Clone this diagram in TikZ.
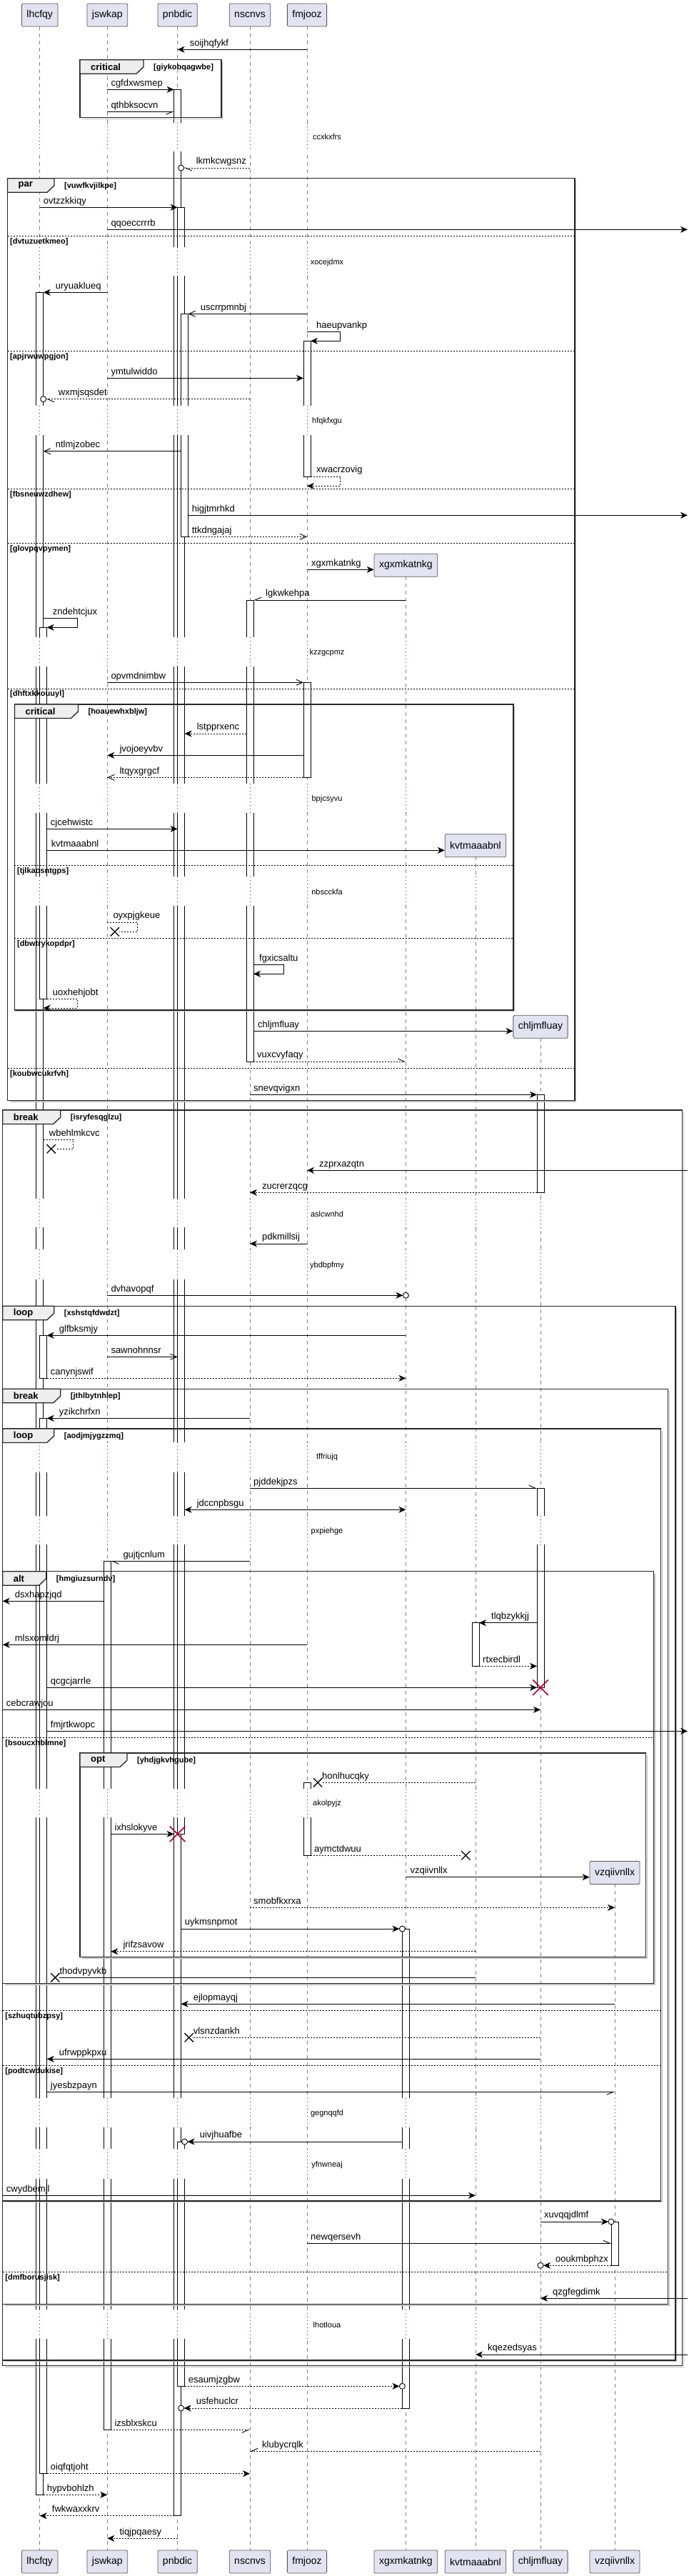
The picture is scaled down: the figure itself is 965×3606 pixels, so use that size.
\documentclass[tikz,border=0pt]{standalone}
\usepackage{fontspec}
\setmainfont{Liberation Sans}
\usetikzlibrary{arrows.meta,shapes.misc}
\definecolor{partyfill}{HTML}{E2E2F0}
\definecolor{tabfill}{HTML}{EEEEEE}
\definecolor{dlycol}{HTML}{A80036}

\def\xlh{55.7}
\def\xjs{150.3}
\def\xpn{248.6}
\def\xns{350}
\def\xfm{430}
\def\xxg{568.4}
\def\xkv{666}
\def\xch{757}
\def\xvz{861}
\def\Pfive{\xlh,\xjs,\xpn,\xns,\xfm}
\def\Psix{\xlh,\xjs,\xpn,\xns,\xfm,\xxg}
\def\Pseven{\xlh,\xjs,\xpn,\xns,\xfm,\xxg,\xkv}
\def\Peight{\xlh,\xjs,\xpn,\xns,\xfm,\xxg,\xkv,\xch}
\def\Pnine{\xlh,\xjs,\xpn,\xns,\xfm,\xxg,\xkv,\xch,\xvz}

\tikzset{
  lifeline/.style={draw=gray, line width=0.5pt, dash pattern=on 5pt off 5pt},
  dlyline/.style={draw=dlycol, line width=0.6pt, dash pattern=on 1pt off 4pt},
  party/.style={draw=gray!70!black, fill=partyfill, line width=0.8pt, rounded corners=1.5pt,
    minimum height=32pt, inner xsep=7pt, font=\fontsize{14}{16}\selectfont},
  actbar/.style={draw=black, fill=white, line width=0.7pt},
  msgline/.style={line width=0.9pt},
  ret/.style={dash pattern=on 2pt off 2pt},
  hd/.style={-{Stealth[length=10pt,width=9pt,inset=3pt]}},
  dbl/.style={{Stealth[length=10pt,width=9pt,inset=3pt]}-{Stealth[length=10pt,width=9pt,inset=3pt]}},
  opn/.style={-{Straight Barb[length=9pt,width=8pt]}},
  hpl/.style={-{Straight Barb[harpoon,length=9pt,width=8pt]}},
  hpr/.style={-{Straight Barb[harpoon,swap,length=9pt,width=8pt]}},
  ring/.style={circle, draw, line width=0.9pt, fill=white, inner sep=0pt, minimum size=8pt},
  lostx/.style={cross out, draw, line width=1.3pt, minimum width=11pt, minimum height=11pt, inner sep=0pt},
  kill/.style={cross out, draw=dlycol, line width=1.6pt, minimum width=20pt, minimum height=20pt, inner sep=0pt},
  lbl/.style={anchor=south west, inner sep=0pt, font=\fontsize{13}{15}\selectfont, text height=9.5pt, text depth=3pt},
  dly/.style={inner sep=0pt, font=\fontsize{11}{13}\selectfont},
  frm/.style={draw=black!85, line width=1.3pt},
  frmshadow/.style={draw=gray!50, line width=1.3pt},
  sepline/.style={line width=0.8pt, dash pattern=on 2pt off 2pt},
  kw/.style={anchor=west, inner sep=0pt, font=\bfseries\fontsize{13}{15}\selectfont},
  cond/.style={anchor=west, inner sep=0pt, font=\bfseries\fontsize{11}{13}\selectfont},
}

% message: style, from, to, y, label
\newcommand\sqmsg[5][]{%
  \coordinate (#5-s) at (#2,#4);
  \coordinate (#5-t) at (#3,#4);
  \draw[msgline,#1] (#5-s) -- (#5-t);
  \pgfmathsetmacro\labx{(#2)<(#3) ? (#2)+5 : (#3)+17}
  \node[lbl] (#5) at (\labx,#4-2) {#5};}
% message to self: style, from, loop x, y1, y2, back to, label
\newcommand\sqself[7][]{%
  \coordinate (#7-s) at (#2,#4);
  \coordinate (#7-t) at (#6,#5);
  \draw[msgline,#1] (#7-s) -- (#3,#4) -- (#3,#5) -- (#7-t);
  \pgfmathsetmacro\labx{max(#2,#6)+8}
  \node[lbl] (#7) at (\labx,#4-2) {#7};}
% lost message: style, from, x of cross, y, label
\newcommand\sqlost[5][]{%
  \coordinate (#5-s) at (#2,#4);
  \node[lostx] (#5-x) at (#3,#4) {};
  \draw[msgline,#1] (#5-s) -- (#5-x);
  \pgfmathsetmacro\labx{(#2)<(#3) ? (#2)+5 : (#3)+6}
  \node[lbl] (#5) at (\labx,#4-2) {#5};}
\newcommand\sqlostself[7][]{%
  \coordinate (#7-s) at (#2,#4);
  \node[lostx] (#7-x) at (#6,#5) {};
  \draw[msgline,#1] (#7-s) -- (#3,#4) -- (#3,#5) -- (#7-x);
  \node[lbl] (#7) at (#2+8,#4-2) {#7};}
% create: from, y, box x, box y, name
\newcommand\sqcreate[5]{%
  \node[party] (p-#5) at (#3,#4) {#5};
  \coordinate (#5-s) at (#1,#2);
  \draw[msgline,hd] (#5-s) -- (#5-s -| p-#5.west);
  \node[lbl] (#5) at (#1+6,#2-2) {#5};}
% group: x0, y0, x1, y1, tab width, keyword, condition
\newcommand\sqgroup[7]{%
  \draw[frmshadow] (#1+3,#4+1.8) -- (#3+1.8,#4+1.8) -- (#3+1.8,#2+3);
  \draw[frm] (#1,#2) rectangle (#3,#4);
  \draw[frm,fill=tabfill] (#1,#2) -- (#1+#5,#2) -- (#1+#5,#2+10) -- (#1+#5-10,#2+19.5) -- (#1,#2+19.5) -- cycle;
  \node[kw] (k-#7) at (#1+15,#2+10) {#6};
  \node[cond] (g-#7) at (#1+#5+14,#2+10.5) {[#7]};}
\newcommand\sqsep[4]{%
  \draw[sepline] (#1,#3) -- (#2,#3);
  \node[cond] (g-#4) at (#1+3.5,#3+8) {[#4]};}
% delay: y1, y2, y of text, text, lifelines
\newcommand\sqdelay[5]{%
  \fill[white] (0,#1) rectangle (965,#2);
  \foreach \px in #5 {\draw[dlyline] (\px,#1) -- (\px,#2);}
  \node[dly] (d-#4) at (458,#3) {#4};}

\begin{document}
\begin{tikzpicture}[x=1pt,y=-1pt]
\useasboundingbox (0,0) rectangle (965,3606);

% lifelines
\foreach \px/\ytop in {\xlh/37,\xjs/37,\xpn/37,\xns/37,\xfm/37,\xxg/807.3,\xkv/1199.3,\xch/1453.3,\xvz/2637.3}
  \draw[lifeline] (\px,\ytop) -- (\px,3570);

% activations
\foreach \bx/\ba/\bb in {50.7/409.3/3492.3, 55.7/878.3/1398.3, 55.7/1869.3/1929.3, 55.7/1985.3/3462.7,
    145.3/2185.3/3401.3, 243.6/125.3/3521.7, 248.6/290.3/2567.3, 253.6/439.3/751.3, 248.6/2998/3340.3,
    345/840/1486, 425/477.3/667, 425/955.3/1088.3, 425/2495.3/2597.3, 563.4/2700/3371,
    661/2271.7/2332.3, 752/1532.3/1669.3, 752/2083.3/2362.3, 856/3110/3171.3}
  \draw[actbar] (\bx,\ba) rectangle (\bx+10,\bb);

% delays
\sqdelay{172}{212}{192}{ccxkxfrs}{\Pfive}
\sqdelay{345.7}{386}{367.7}{xocejdmx}{\Pfive}
\sqdelay{567.7}{609.3}{589.3}{hfqkfxgu}{\Pfive}
\sqdelay{891.7}{932.7}{913.7}{kzzgcpmz}{\Psix}
\sqdelay{1096.7}{1137.7}{1118.3}{bpjcsyvu}{\Psix}
\sqdelay{1226.7}{1268.3}{1248.3}{nbscckfa}{\Pseven}
\sqdelay{1677.7}{1718.3}{1699.3}{aslcwnhd}{\Peight}
\sqdelay{1749.3}{1791}{1771.7}{ybdbpfmy}{\Peight}
\sqdelay{2018.7}{2060.7}{2040}{tffriujq}{\Peight}
\sqdelay{2121.7}{2162.3}{2143.3}{pxpiehge}{\Peight}
\sqdelay{2503.7}{2544.3}{2524.3}{akolpyjz}{\Peight}
\sqdelay{2936.7}{2977.7}{2958.7}{gegnqqfd}{\Pnine}
\sqdelay{3008}{3050}{3030.7}{yfnwneaj}{\Pnine}
\sqdelay{3232.7}{3274}{3254.3}{lhotloua}{\Pnine}

% groups
\sqgroup{112}{83.7}{310}{164.7}{89}{critical}{giykobqagwbe}
\sqgroup{10.5}{249.7}{805}{1540.3}{65.5}{par}{vuwfkvjilkpe}
\sqsep{10.5}{805}{330.3}{dvtuzuetkmeo}
\sqsep{10.5}{805}{491.3}{apjrwuwpgjon}
\sqsep{10.5}{805}{684.3}{fbsneuwzdhew}
\sqsep{10.5}{805}{760.3}{glovpqvpymen}
\sqsep{10.5}{805}{964}{dhftxkkouuyl}
\sqsep{10.5}{805}{1495.3}{koubwcukrfvh}
\sqgroup{20.4}{986}{719}{1414}{89}{critical}{hoauewhxbljw}
\sqsep{20.4}{719}{1211.3}{tjlkaosntgps}
\sqsep{20.4}{719}{1313.3}{dbwtrykopdpr}
\sqgroup{3.7}{1554}{955.5}{3311.7}{81}{break}{isryfesqglzu}
\sqgroup{3.7}{1828.3}{946}{3304}{72}{loop}{xshstqfdwdzt}
\sqgroup{3.7}{1944.3}{935.7}{3225.3}{81}{break}{jthlbytnhlep}
\sqsep{3.7}{935.7}{3180.3}{dmfborusjisk}
\sqgroup{3.7}{2000}{925.8}{3081}{72}{loop}{aodjmjygzzmq}
\sqsep{3.7}{925.8}{2814.3}{szhuqtubzpsy}
\sqsep{3.7}{925.8}{2891.3}{podtcwdukise}
\sqgroup{3.7}{2199.7}{915.3}{2776.3}{61}{alt}{hmgiuzsurndv}
\sqsep{3.7}{915.3}{2432.3}{bsoucxhblmne}
\sqgroup{112}{2454}{904.8}{2739.3}{66}{opt}{yhdjgkvhgube}

% participants
\foreach \px/\nm in {\xlh/lhcfqy,\xjs/jswkap,\xpn/pnbdic,\xns/nscnvs,\xfm/fmjooz}
  \node[party] (\nm-top) at (\px,21) {\nm};
\foreach \px/\nm in {\xlh/lhcfqy,\xjs/jswkap,\xpn/pnbdic,\xns/nscnvs,\xfm/fmjooz,\xxg/xgxmkatnkg,\xkv/kvtmaaabnl,\xch/chljmfluay,\xvz/vzqiivnllx}
  \node[party] (\nm-bot) at (\px,3586) {\nm};

% messages
\sqmsg[hd]{\xfm}{\xpn}{69.3}{soijhqfykf}
\sqmsg[hd]{\xjs}{243.6}{125.3}{cgfdxwsmep}
\sqmsg[hpr]{\xjs}{243.6}{156.3}{qthbksocvn}
\sqmsg[ret,hpl]{\xns}{257.6}{235}{lkmkcwgsnz}
\node[ring] (lkmkcwgsnz-o) at (253.6,235) {};
\sqmsg[hd]{\xlh}{248.6}{290.3}{ovtzzkkiqy}
\sqmsg[hd]{\xjs}{963}{321.3}{qqoeccrrrb}
\sqmsg[hd]{\xjs}{60.7}{409.3}{uryuaklueq}
\sqmsg[opn]{\xfm}{263.6}{439.3}{uscrrpmnbj}
\sqself[hd]{\xfm}{476.8}{464.3}{477.3}{435}{haeupvankp}
\sqmsg[hd]{\xjs}{425}{529.3}{ymtulwiddo}
\sqmsg[ret,hpl]{\xns}{64.7}{558.7}{wxmjsqsdet}
\node[ring] (wxmjsqsdet-o) at (60.7,558.7) {};
\sqmsg[opn]{253.6}{60.7}{631.7}{ntlmjzobec}
\sqself[ret,hd]{435}{476.8}{667}{680.3}{\xfm}{xwacrzovig}
\sqmsg[hd]{263.6}{963}{721.3}{higjtmrhkd}
\sqmsg[ret,opn]{263.6}{\xfm}{751.3}{ttkdngajaj}
\sqcreate{\xfm}{797.3}{\xxg}{791.3}{xgxmkatnkg}
\sqmsg[hpr]{\xxg}{355}{840}{lgkwkehpa}
\sqself[hd]{60.7}{108.2}{865.3}{878.3}{65.7}{zndehtcjux}
\sqmsg[opn]{\xjs}{425}{955.3}{opvmdnimbw}
\sqmsg[ret,hd]{345}{258.6}{1027}{lstpprxenc}
\sqmsg[hd]{425}{\xjs}{1057.3}{jvojoeyvbv}
\sqmsg[ret,opn]{425}{\xjs}{1088.3}{ltqyxgrgcf}
\sqmsg[hd]{65.7}{248.6}{1160.3}{cjcehwistc}
\sqcreate{65.7}{1190.3}{\xkv}{1183.8}{kvtmaaabnl}
\sqlostself[ret]{\xjs}{192.3}{1291}{1304.3}{160.8}{oyxpjgkeue}
\sqself[hd]{355}{397}{1350.3}{1363.3}{355}{fgxicsaltu}
\sqself[ret,hd]{65.7}{108.2}{1398.3}{1411}{60.7}{uoxhehjobt}
\sqcreate{355}{1443.3}{\xch}{1437.3}{chljmfluay}
\sqmsg[ret,hpl]{355}{\xxg}{1486}{vuxcvyfaqy}
\sqmsg[hd]{\xns}{752}{1532.3}{snevqvigxn}
\sqlostself[ret]{60.7}{102.7}{1595.3}{1608.3}{71.7}{wbehlmkcvc}
\sqmsg[hd]{963}{\xfm}{1638.3}{zzprxazqtn}
\sqmsg[ret,hd]{752}{\xns}{1669.3}{zucrerzqcg}
\sqmsg[hd]{\xfm}{\xns}{1741}{pdkmillsij}
\sqmsg[hd]{\xjs}{564.4}{1813.3}{dvhavopqf}
\node[ring] (dvhavopqf-o) at (\xxg,1813.3) {};
\sqmsg[hd]{\xxg}{65.7}{1869.3}{glfbksmjy}
\sqmsg[opn]{\xjs}{248.6}{1899.3}{sawnohnnsr}
\sqmsg[ret,hd]{65.7}{\xxg}{1929.3}{canynjswif}
\sqmsg[hd]{\xns}{65.7}{1985.3}{yzikchrfxn}
\sqmsg[hpl]{\xns}{752}{2083.3}{pjddekjpzs}
\sqmsg[dbl]{\xxg}{258.6}{2113.3}{jdccnpbsgu}
\sqmsg[hpl]{\xns}{155.3}{2185.3}{gujtjcnlum}
\sqmsg[hd]{145.3}{3.7}{2241.3}{dsxhapzjqd}
\sqmsg[hd]{752}{671}{2271.7}{tlqbzykkjj}
\sqmsg[hd]{\xfm}{3.7}{2302.3}{mlsxomldrj}
\sqmsg[ret,hd]{671}{752}{2332.3}{rtxecbirdl}
\sqmsg[hd]{65.7}{752}{2362.3}{qcgcjarrle}
\node[kill] (qcgcjarrle-x) at (\xch,2362.3) {};
\sqmsg[hd]{3.7}{\xch}{2393.3}{cebcrawjou}
\sqmsg[hd]{65.7}{963}{2423.3}{fmjrtkwopc}
\sqlost[ret]{\xkv}{445}{2495.3}{honlhucqky}
\sqmsg[hd]{155.3}{243.6}{2567.3}{ixhslokyve}
\node[kill] (ixhslokyve-x) at (\xpn,2567.3) {};
\sqlost[ret]{435}{652.4}{2597.3}{aymctdwuu}
\sqcreate{\xxg}{2627.7}{\xvz}{2621.5}{vzqiivnllx}
\sqmsg[ret,hd]{\xns}{\xvz}{2670.3}{smobfkxrxa}
\sqmsg[hd]{253.6}{559.4}{2700}{uykmsnpmot}
\node[ring] (uykmsnpmot-o) at (563.4,2700) {};
\sqmsg[ret,hd]{\xkv}{155.3}{2731.7}{jrifzsavow}
\sqlost{\xkv}{77.3}{2768.3}{thodvpyvkb}
\sqmsg[hd]{\xvz}{253.6}{2805.3}{ejlopmayqj}
\sqlost[ret]{\xch}{264.7}{2852.3}{vlsnzdankh}
\sqmsg[hd]{\xch}{65.7}{2882.3}{ufrwppkpxu}
\sqmsg[hpr]{65.7}{\xvz}{2928.3}{jyesbzpayn}
\sqmsg[hd]{563.4}{262.6}{2998}{uivjhuafbe}
\node[ring] (uivjhuafbe-o) at (258.6,2998) {};
\sqmsg[hd]{3.7}{\xkv}{3073.3}{cwydbemjl}
\sqmsg[hd]{\xch}{852}{3110}{xuvqqjdlmf}
\node[ring] (xuvqqjdlmf-o) at (856,3110) {};
\sqmsg[hpl]{\xfm}{856}{3140.3}{newqersevh}
\sqmsg[ret,hd]{856}{761}{3171.3}{ooukmbphzx}
\node[ring] (ooukmbphzx-o) at (\xch,3171.3) {};
\sqmsg[hd]{963}{\xch}{3217.3}{qzgfegdimk}
\sqmsg[hd]{963}{\xkv}{3296}{kqezedsyas}
\sqmsg[ret,hd]{258.6}{559.4}{3340.3}{esaumjzgbw}
\node[ring] (esaumjzgbw-o) at (563.4,3340.3) {};
\sqmsg[ret,hd]{563.4}{257.6}{3371}{usfehuclcr}
\node[ring] (usfehuclcr-o) at (253.6,3371) {};
\sqmsg[ret,hpr]{155.3}{\xns}{3401.3}{izsblxskcu}
\sqmsg[ret,hpr]{\xch}{\xns}{3431.3}{klubycrqlk}
\sqmsg[ret,hd]{65.7}{\xns}{3462.7}{oiqfqtjoht}
\sqmsg[ret,hd]{60.7}{\xjs}{3492.3}{hypvbohlzh}
\sqmsg[ret,hd]{243.6}{\xlh}{3521.7}{fwkwaxxkrv}
\sqmsg[ret,hd]{\xpn}{\xjs}{3553.3}{tiqjpqaesy}
\end{tikzpicture}
\end{document}
